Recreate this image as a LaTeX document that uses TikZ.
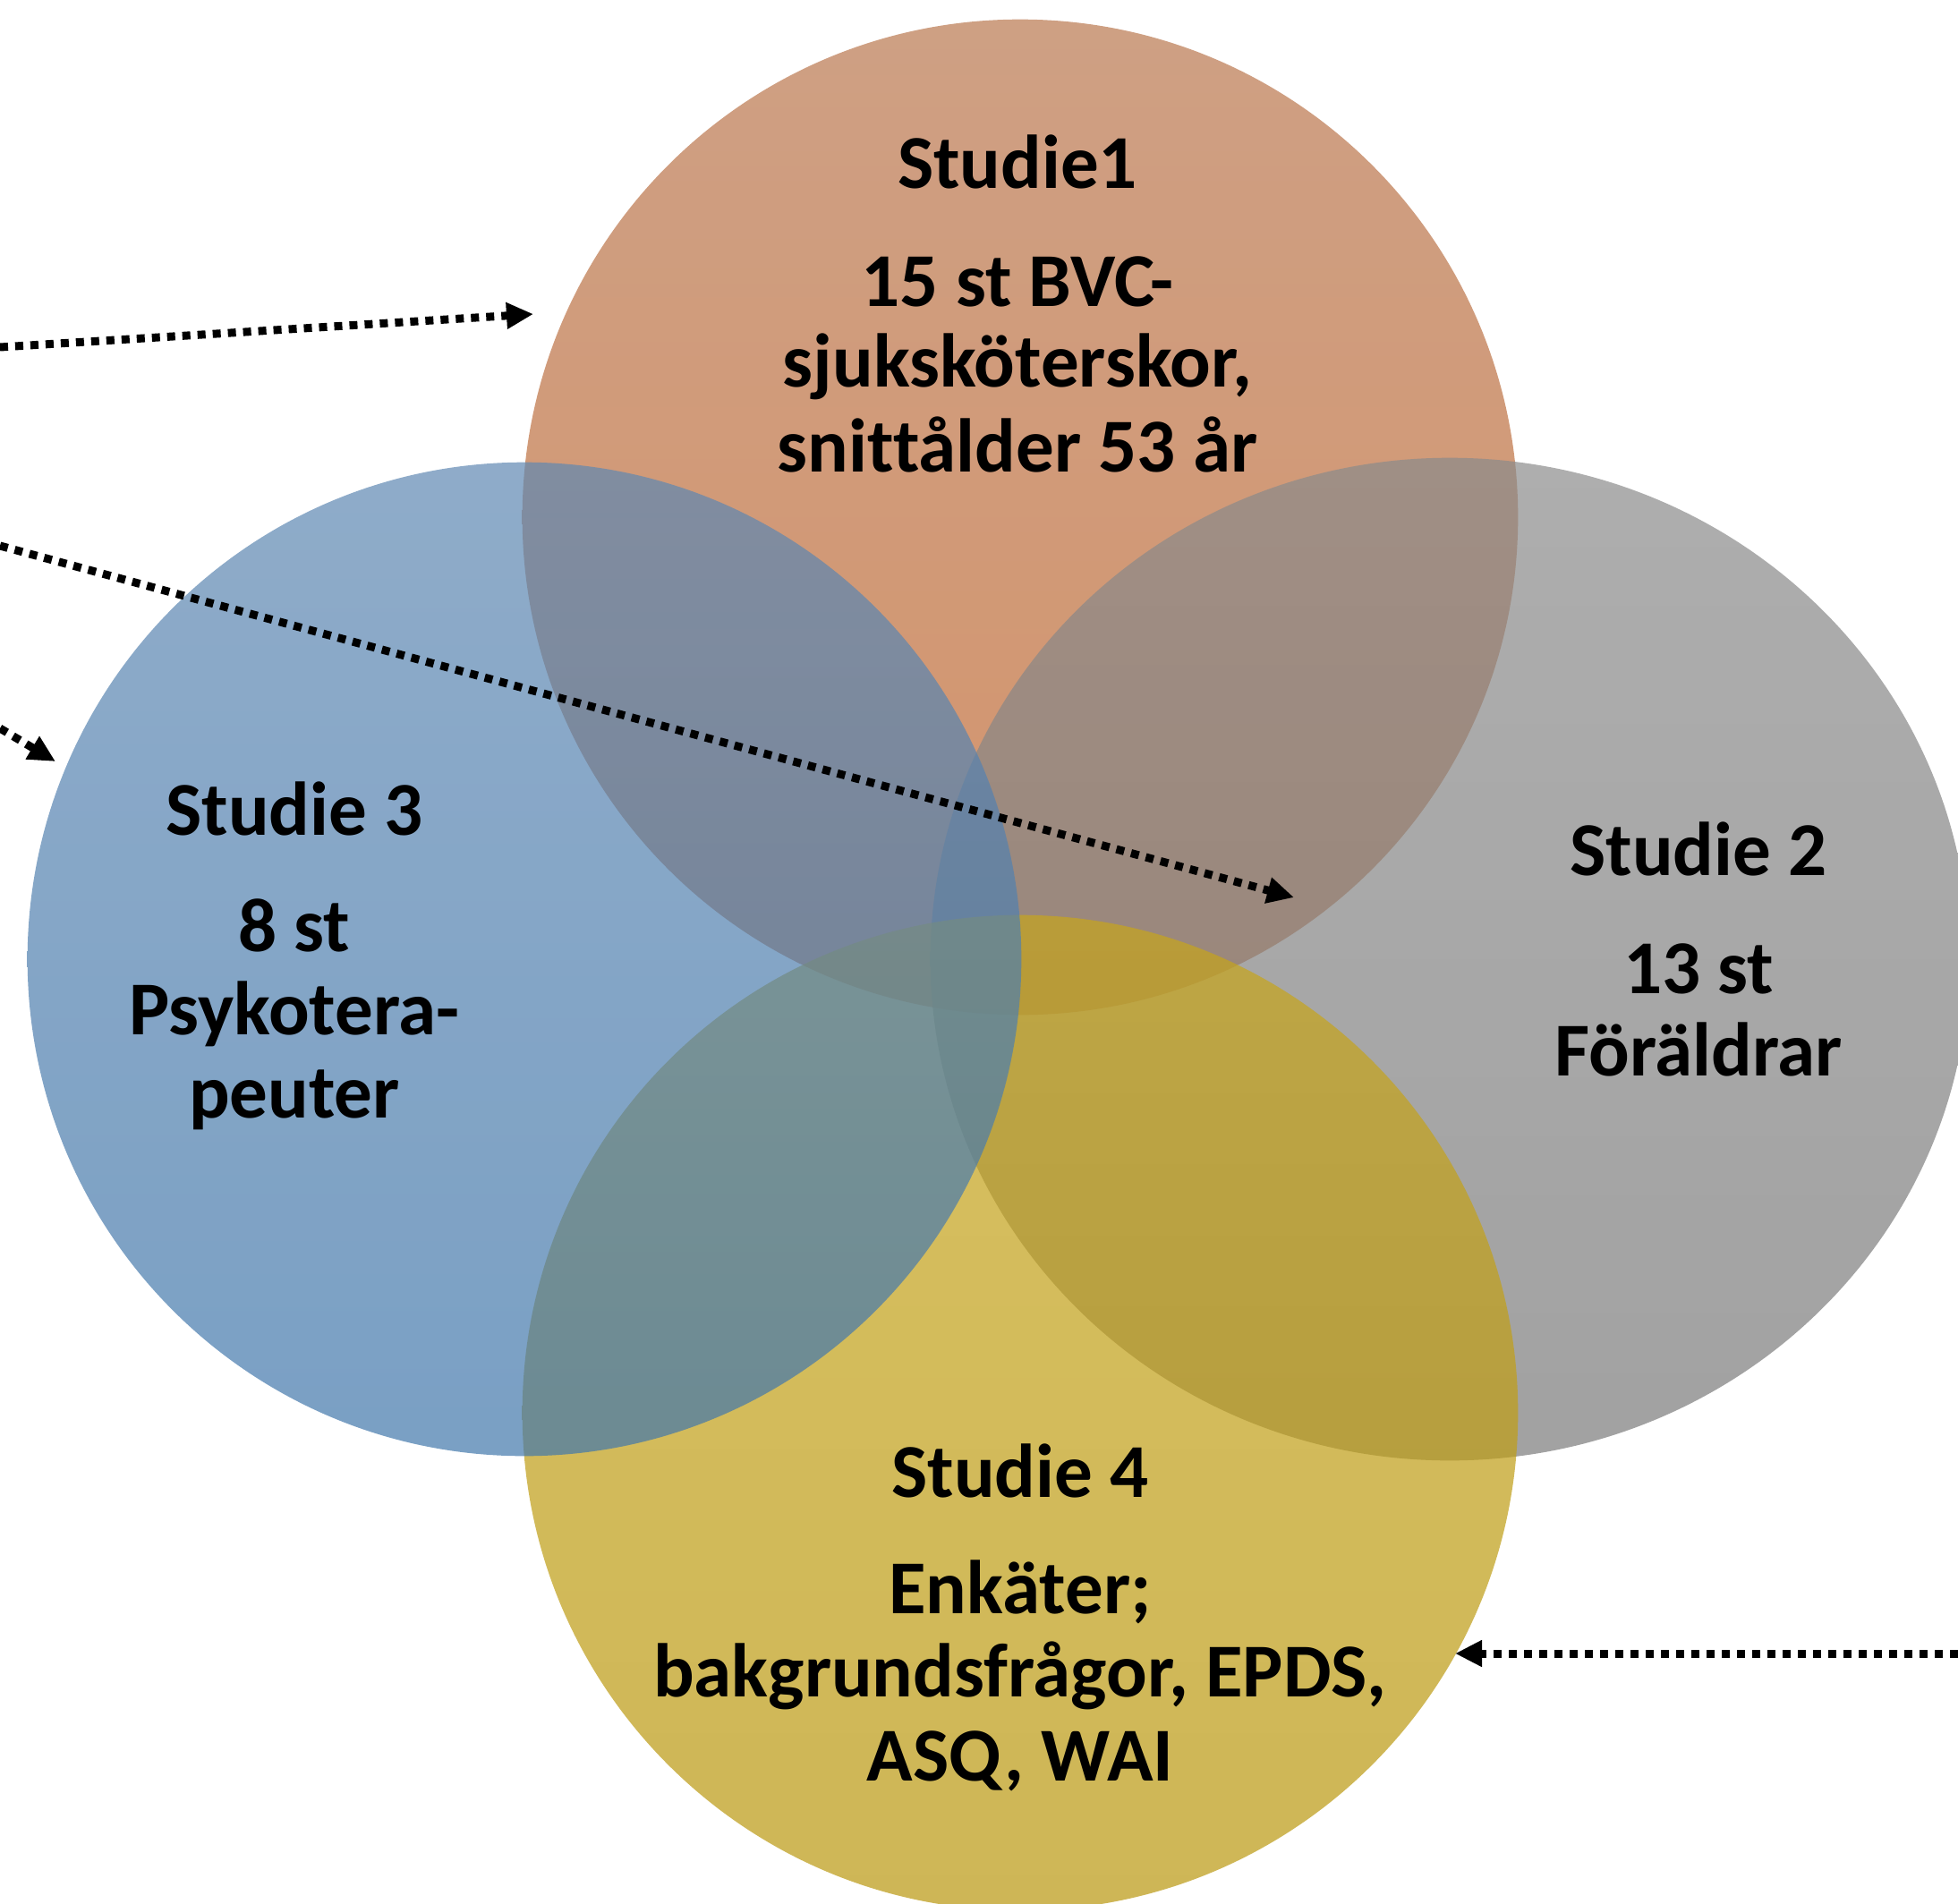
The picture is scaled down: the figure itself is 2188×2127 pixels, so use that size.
\documentclass[tikz,border=0pt]{standalone}
\usepackage{fontspec}
\setmainfont{Carlito}[Ligatures={NoCommon}]
\usetikzlibrary{arrows.meta,shapes.geometric}
\definecolor{orT}{RGB}{185,119,79}
\definecolor{orB}{RGB}{194,102,45}
\definecolor{grT}{RGB}{139,139,139}
\definecolor{grB}{RGB}{122,122,122}
\definecolor{blT}{RGB}{95,136,178}
\definecolor{blB}{RGB}{65,119,171}
\definecolor{yeT}{RGB}{199,165,28}
\definecolor{yeB}{RGB}{185,151,14}
\begin{document}
\begin{tikzpicture}[x=0.01cm,y=-0.01cm,
  venn/.style={inner sep=0pt, outer sep=0pt, fill opacity=0.7, draw=none},
  lbl/.style={font=\bfseries\fontsize{24.2}{28}\selectfont, anchor=base, inner sep=0pt, text=black},
  dotarrow/.style={line width=0.09cm, dash pattern=on 0.09cm off 0.08cm,
    -{Triangle[length=0.3cm,width=0.28cm]}}
]
\useasboundingbox (0,0) rectangle (2188,2127);
\clip (0,0) rectangle (2188,2127);
% circles
\node[venn, circle, minimum size=11.12cm, top color=orT, bottom color=orB] (s1) at (1140,578) {};
\node[venn, ellipse, minimum width=11.6cm, minimum height=11.2cm, top color=grT, bottom color=grB] (s2) at (1620,1072) {};
\node[venn, circle, minimum size=11.12cm, top color=yeT, bottom color=yeB] (s4) at (1140,1579) {};
\node[venn, circle, minimum size=11.1cm, top color=blT, bottom color=blB] (s3) at (586,1072) {};
% arrows
\coordinate (a1s) at (0,388);   \coordinate (a1e) at (596,351);
\coordinate (a2s) at (0,610);   \coordinate (a2e) at (1446,1003);
\coordinate (a3s) at (0,814);   \coordinate (a3e) at (62,851);
\coordinate (a4s) at (2188,1848); \coordinate (a4e) at (1626,1848);
\draw[dotarrow] (a1s) -- (a1e);
\draw[dotarrow] (a2s) -- (a2e);
\draw[dotarrow] (a3s) -- (a3e);
\draw[dotarrow] (a4s) -- (a4e);
% texts
\node[lbl] (t1a) at (1137,210) {Studie1};
\node[lbl] (t1b) at (1137,342) {15 st BVC-};
\node[lbl] (t1c) at (1137,432) {sjuksköterskor,};
\node[lbl] (t1d) at (1137,527) {snittålder 53 år};
\node[lbl] (t3a) at (329,933) {Studie 3};
\node[lbl] (t3b) at (329,1063) {8 st};
\node[lbl] (t3c) at (329,1156) {Psykotera-};
\node[lbl] (t3d) at (329,1249) {peuter};
\node[lbl] (t2a) at (1898,978) {Studie 2};
\node[lbl] (t2b) at (1898,1110) {13 st};
\node[lbl] (t2c) at (1898,1202) {Föräldrar};
\node[lbl] (t4a) at (1140,1673) {Studie 4};
\node[lbl] (t4b) at (1140,1803) {Enkäter;};
\node[lbl] (t4c) at (1140,1896) {bakgrundsfrågor, EPDS,};
\node[lbl] (t4d) at (1140,1990) {ASQ, WAI};
\end{tikzpicture}
\end{document}
